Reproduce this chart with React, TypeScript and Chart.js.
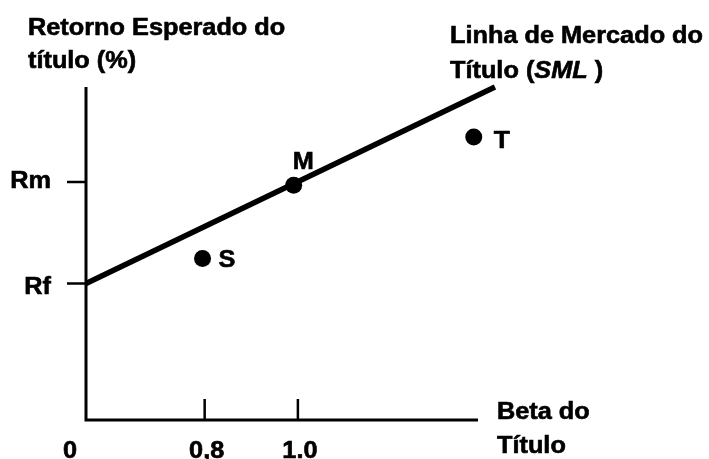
import React, { useEffect, useRef } from "react";
import { Chart, registerables } from "chart.js";

Chart.register(...registerables);

// Schematic axis positions (beta axis drawn as in the original figure)
const xTickValues = [0, 0.56, 1.0];
const xTickLabels = ["0", "0,8", "1.0"];
const yTickValues = [4.1, 7.15];
const yTickLabels = ["Rf", "Rm"];

// Security Market Line
const smlBeta = [0, 1.93];
const smlReturn = [4.1, 10];

// Securities
const securityNames = ["S", "M", "T"];
const securityBeta = [0.55, 0.98, 1.83];
const securityReturn = [4.85, 7.05, 8.5];

const FONT = '"Liberation Sans", Arial, sans-serif';
const SX = 1.1;

function drawText(
  ctx: CanvasRenderingContext2D,
  text: string,
  x: number,
  y: number,
  align: CanvasTextAlign = "left",
  size = 23,
  italic = false
) {
  ctx.save();
  ctx.font = `${italic ? "italic " : ""}bold ${size}px ${FONT}`;
  ctx.fillStyle = "#000";
  ctx.strokeStyle = "#000";
  ctx.lineWidth = 0.6;
  ctx.textBaseline = "alphabetic";
  ctx.textAlign = align;
  ctx.translate(x, y);
  ctx.scale(SX, 1);
  ctx.fillText(text, 0, 0);
  ctx.strokeText(text, 0, 0);
  const w = ctx.measureText(text).width * SX;
  ctx.restore();
  return w;
}

const smlPlugin = {
  id: "smlDecor",
  beforeDatasetsDraw(chart: any) {
    const ctx: CanvasRenderingContext2D = chart.ctx;
    const xs = chart.scales.x;
    const ys = chart.scales.y;
    const x0 = xs.getPixelForValue(0);
    const y0 = ys.getPixelForValue(0);
    const xEnd = xs.getPixelForValue(xs.max);
    const yTop = ys.getPixelForValue(ys.max);
    ctx.save();
    ctx.strokeStyle = "#000";
    ctx.lineCap = "butt";
    ctx.lineWidth = 3;
    ctx.beginPath();
    ctx.moveTo(x0, yTop);
    ctx.lineTo(x0, y0 + 1.5);
    ctx.moveTo(x0 - 1.5, y0);
    ctx.lineTo(xEnd, y0);
    ctx.stroke();
    ctx.lineWidth = 2.5;
    ctx.beginPath();
    xTickValues.forEach((v) => {
      if (v === 0) return;
      const px = xs.getPixelForValue(v);
      ctx.moveTo(px, y0);
      ctx.lineTo(px, y0 - 21);
    });
    yTickValues.forEach((v) => {
      const py = ys.getPixelForValue(v);
      ctx.moveTo(x0, py);
      ctx.lineTo(x0 - 19, py);
    });
    ctx.stroke();
    ctx.restore();
  },
  afterDraw(chart: any) {
    const ctx: CanvasRenderingContext2D = chart.ctx;
    const xs = chart.scales.x;
    const ys = chart.scales.y;
    const x0 = xs.getPixelForValue(0);
    const y0 = ys.getPixelForValue(0);

    // x tick labels
    xTickValues.forEach((v, i) => {
      const px = xs.getPixelForValue(v);
      const dx = i === 0 ? -16 : 2;
      drawText(ctx, xTickLabels[i], px + dx, y0 + 38, "center");
    });
    // y tick labels
    yTickValues.forEach((v, i) => {
      const py = ys.getPixelForValue(v);
      drawText(ctx, yTickLabels[i], x0 - 35, py + (i === 0 ? 11 : 6), "right");
    });

    // point labels
    const meta = chart.getDatasetMeta(1);
    const offs = [
      [16, 9, 23],
      [-1, -16, 23],
      [20, 11, 24],
    ];
    meta.data.forEach((el: any, i: number) => {
      drawText(ctx, securityNames[i], el.x + offs[i][0], el.y + offs[i][1], "left", offs[i][2]);
    });

    // axis titles
    drawText(ctx, "Retorno Esperado do", 28, 35);
    drawText(ctx, "título (%)", 28, 68);
    drawText(ctx, "Beta do", 497, 419);
    drawText(ctx, "Título", 497, 453);

    // SML label
    drawText(ctx, "Linha de Mercado do", 450, 43);
    let cx = 450;
    cx += drawText(ctx, "Título (", cx, 78);
    cx += drawText(ctx, "SML", cx, 78, "left", 23, true);
    drawText(ctx, " )", cx, 78);
  },
};

export default function App() {
  const ref = useRef<HTMLCanvasElement | null>(null);
  useEffect(() => {
    if (!ref.current) return;
    const chart = new Chart(ref.current, {
      type: "scatter",
      data: {
        datasets: [
          {
            label: "SML",
            data: smlBeta.map((b, i) => ({ x: b, y: smlReturn[i] })),
            showLine: true,
            borderColor: "#000",
            backgroundColor: "#000",
            borderWidth: 5.5,
            borderCapStyle: "butt",
            pointRadius: 0,
            clip: false,
          } as any,
          {
            label: "Títulos",
            data: securityBeta.map((b, i) => ({ x: b, y: securityReturn[i] })),
            showLine: false,
            backgroundColor: "#000",
            borderColor: "#000",
            pointRadius: 8.5,
            borderWidth: 0,
            clip: false,
          } as any,
        ],
      },
      options: {
        responsive: false,
        animation: false,
        devicePixelRatio: 1,
        layout: { padding: { left: 86, right: 231, top: 87, bottom: 39 } },
        plugins: { legend: { display: false }, tooltip: { enabled: false } },
        events: [],
        scales: {
          x: { type: "linear", min: 0, max: 1.85, display: false },
          y: { type: "linear", min: 0, max: 10, display: false },
        },
      },
      plugins: [smlPlugin],
    });
    return () => chart.destroy();
  }, []);
  return (
    <div style={{ position: "fixed", left: 0, top: 0, width: 709, height: 459, background: "#fff" }}>
      <canvas ref={ref} width={709} height={459} style={{ display: "block" }} />
    </div>
  );
}
